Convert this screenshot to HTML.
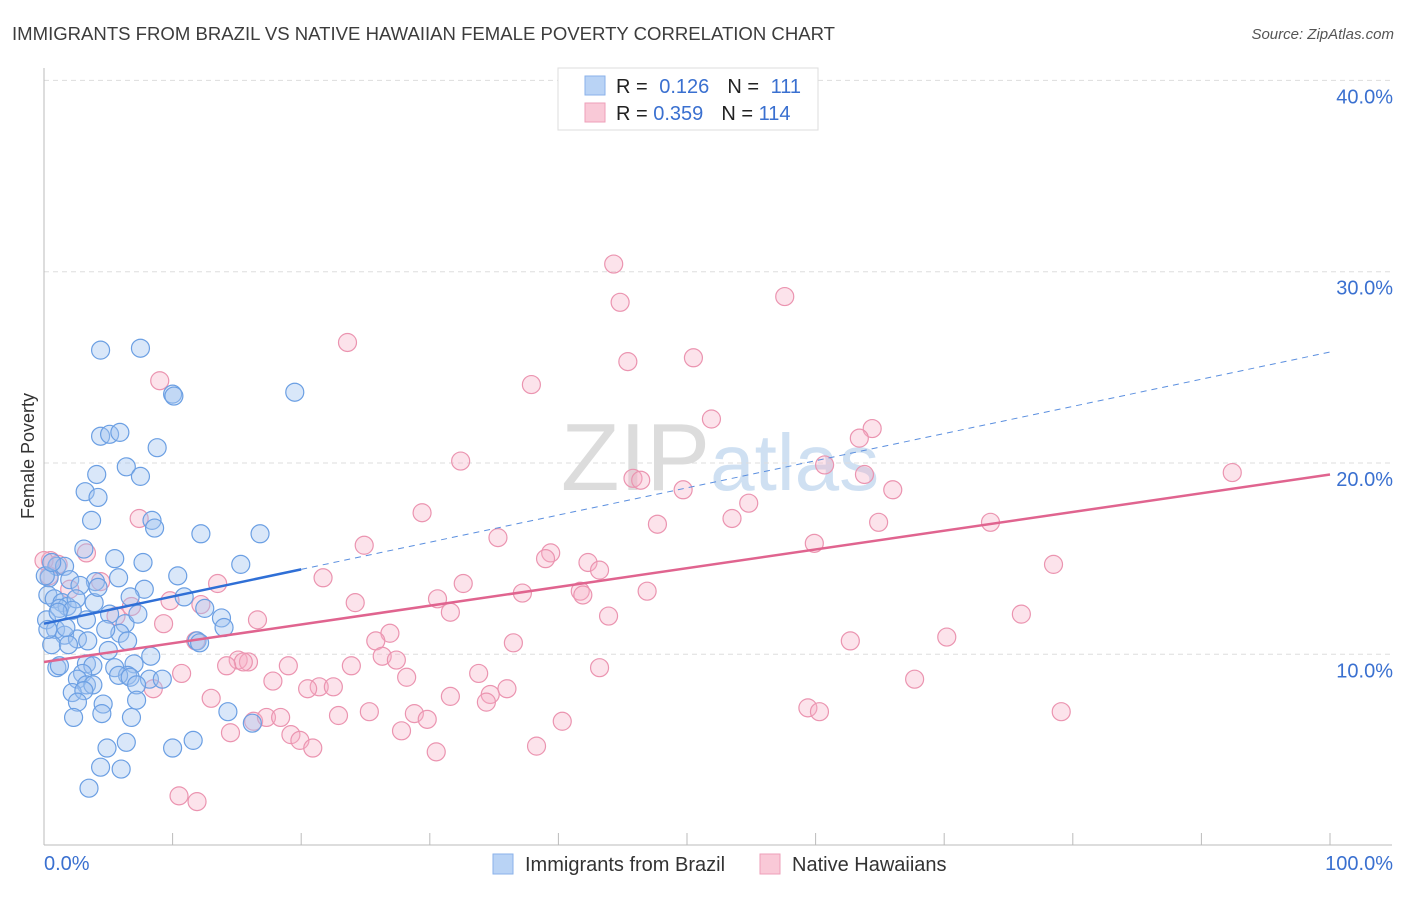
<!DOCTYPE html>
<html><head><meta charset="utf-8"><style>
body{margin:0;background:#fff;font-family:"Liberation Sans",sans-serif;}
svg text{font-family:"Liberation Sans",sans-serif;}
</style></head><body>
<svg id="chart" width="1406" height="892" viewBox="0 0 1406 892">
<text x="12" y="40" font-size="18" fill="#3c3c3c" textLength="823" lengthAdjust="spacingAndGlyphs">IMMIGRANTS FROM BRAZIL VS NATIVE HAWAIIAN FEMALE POVERTY CORRELATION CHART</text>
<text x="1394" y="39" font-size="15" font-style="italic" fill="#555" text-anchor="end">Source: ZipAtlas.com</text>
<text x="720" y="490" font-size="96" fill="#dcdcdc" text-anchor="middle" font-family="Liberation Serif">ZIP<tspan fill="#cfe0f2" font-family="Liberation Sans" font-size="80">atlas</tspan></text>
<text transform="translate(34,456) rotate(-90)" font-size="18" fill="#333" text-anchor="middle">Female Poverty</text>
<g id="grid"></g><g id="axes"></g><g id="pts"></g><g id="lines"></g>
<g>
<rect x="558" y="68" width="260" height="62" fill="#fff" stroke="#ddd"/>
<rect x="585" y="76" width="20" height="19" fill="#b9d3f5" stroke="#8ab2ea"/>
<rect x="585" y="103" width="20" height="19" fill="#f9c9d7" stroke="#ee9fb8"/>
<text x="616" y="93" font-size="20" fill="#222">R = <tspan fill="#3a70d0" dx="6">0.126</tspan><tspan fill="#222" dx="18">N = </tspan><tspan fill="#3a70d0" dx="6">111</tspan></text>
<text x="616" y="120" font-size="20" fill="#222">R = <tspan fill="#3a70d0">0.359</tspan><tspan fill="#222" dx="18">N = </tspan><tspan fill="#3a70d0">114</tspan></text>
</g>
<g>
<rect x="493" y="854" width="20" height="20" fill="#b9d3f5" stroke="#8ab2ea"/>
<text x="525" y="871" font-size="20" fill="#333">Immigrants from Brazil</text>
<rect x="760" y="854" width="20" height="20" fill="#f9c9d7" stroke="#ee9fb8"/>
<text x="792" y="871" font-size="20" fill="#333">Native Hawaiians</text>
</g>
</svg>
<script>
const yTicks=[10,20,30,40];
const xTickVals=[0,10,20,30,40,50,60,70,80,90,100];
const blueX=[4.4,7.5,10.0,10.1,19.5,4.4,5.1,5.9,8.8,4.1,6.4,7.5,3.2,4.2,3.7,8.4,8.6,12.2,16.8,3.1,5.5,7.7,15.3,1.0,1.6,0.4,2.0,4.0,5.8,7.8,10.4,2.8,0.3,0.8,1.4,1.8,2.5,3.9,6.7,10.9,12.5,1.2,2.2,3.3,5.1,6.3,13.8,14.0,0.2,0.9,1.6,2.6,3.4,5.9,6.5,11.9,12.1,0.6,1.9,5.0,8.3,1.0,3.3,3.8,5.5,7.0,3.0,6.5,2.6,3.3,5.8,6.7,8.2,9.2,7.2,3.8,2.2,3.1,2.6,4.6,7.2,4.5,2.3,6.8,14.3,16.2,4.9,11.6,10.0,4.4,6.0,3.5,6.4,1.1,0.1,0.3,0.6,1.7,4.8,4.2,7.3,1.2];
const blueY=[25.9,26.0,23.6,23.5,23.7,21.4,21.5,21.6,20.8,19.4,19.8,19.3,18.5,18.2,17.0,17.0,16.6,16.3,16.3,15.5,15.0,14.8,14.7,14.6,14.6,14.0,13.9,13.8,14.0,13.4,14.1,13.6,13.1,12.9,12.7,12.5,12.9,12.7,13.0,13.0,12.4,12.4,12.3,11.8,12.1,11.6,11.9,11.4,11.8,11.3,11.0,10.8,10.7,11.1,10.7,10.7,10.6,10.5,10.5,10.2,9.9,9.3,9.5,9.4,9.3,9.5,9.0,8.9,8.7,8.4,8.9,8.8,8.7,8.7,8.4,8.4,8.0,8.1,7.5,7.4,7.6,6.9,6.7,6.7,7.0,6.4,5.1,5.5,5.1,4.1,4.0,3.0,5.4,12.2,14.1,11.3,14.8,11.4,11.3,13.5,12.1,9.4];
const pinkX=[44.3,44.8,57.6,23.6,45.4,50.5,9.0,37.9,51.9,64.4,63.4,32.4,60.7,45.8,46.4,63.8,49.7,92.4,66.0,54.8,29.4,53.5,47.7,64.9,7.4,73.6,35.3,59.9,24.9,39.4,39.0,42.3,43.2,78.5,3.3,4.4,32.6,21.7,13.5,41.7,41.9,37.2,46.9,30.6,9.8,24.2,31.6,6.8,5.6,12.2,16.6,76.0,43.9,26.9,25.8,36.5,62.7,70.2,9.3,0.5,0.4,11.8,26.3,27.4,23.9,15.1,15.9,15.5,14.2,19.0,33.8,43.2,28.2,10.7,17.8,67.7,21.4,20.5,22.5,36.0,34.7,34.4,8.5,13.0,31.6,25.3,28.8,59.4,60.3,22.9,29.8,79.1,16.3,17.3,18.4,40.3,14.5,19.2,27.8,19.9,20.9,38.3,30.5,10.5,11.9,1.1,0.0,2.0];
const pinkY=[30.4,28.4,28.7,26.3,25.3,25.5,24.3,24.1,22.3,21.8,21.3,20.1,19.9,19.2,19.1,19.4,18.6,19.5,18.6,17.9,17.4,17.1,16.8,16.9,17.1,16.9,16.1,15.8,15.7,15.3,15.0,14.8,14.4,14.7,15.3,13.8,13.7,14.0,13.7,13.3,13.1,13.2,13.3,12.9,12.8,12.7,12.2,12.5,12.0,12.6,11.8,12.1,12.0,11.1,10.7,10.6,10.7,10.9,11.6,14.9,14.1,10.7,9.9,9.7,9.4,9.7,9.6,9.6,9.4,9.4,9.0,9.3,8.8,9.0,8.6,8.7,8.3,8.2,8.3,8.2,7.9,7.5,8.2,7.7,7.8,7.0,6.9,7.2,7.0,6.8,6.6,7.0,6.5,6.7,6.7,6.5,5.9,5.8,6.0,5.5,5.1,5.2,4.9,2.6,2.3,14.7,14.9,13.4];
const blueTrend=[11.6,25.8];
const pinkTrend=[9.6,19.4];
const X=v=>44+v*12.86, Y=v=>845.6-v*19.13;
const NS="http://www.w3.org/2000/svg";
function mk(tag,attrs,parent){const e=document.createElementNS(NS,tag);for(const k in attrs)e.setAttribute(k,attrs[k]);parent.appendChild(e);return e;}
const grid=document.getElementById('grid'),axes=document.getElementById('axes'),pts=document.getElementById('pts'),lines=document.getElementById('lines');
yTicks.forEach(t=>{
 const l=mk('line',{x1:44,x2:1392,y1:Y(t),y2:Y(t),stroke:'#ddd','stroke-dasharray':'5,4'},grid);
 
 
 const tx=mk('text',{x:1393,y:Y(t)+23,'font-size':20,fill:'#3a70d0','text-anchor':'end'},axes);
 tx.textContent=t.toFixed(1)+'%';
 
 
});
mk('line',{x1:44,x2:44,y1:68,y2:845,stroke:'#bbb'},axes);
mk('line',{x1:44,x2:1392,y1:845,y2:845,stroke:'#bbb'},axes);
xTickVals.forEach(t=>{
 const l=mk('line',{x1:X(t),x2:X(t),y1:833,y2:845,stroke:'#bbb'},axes);
 
 
});
const xl0=mk('text',{x:44,y:870,'font-size':20,fill:'#3a70d0'},axes);xl0.textContent='0.0%';


const xl1=mk('text',{x:1393,y:870,'font-size':20,fill:'#3a70d0','text-anchor':'end'},axes);xl1.textContent='100.0%';


pinkX.forEach((x,i)=>{
 const c=mk('circle',{cx:X(x),cy:Y(pinkY[i]),r:9,fill:'rgba(246,175,198,0.35)',stroke:'#eb94b0','stroke-width':1.2},pts);
 
 
});
blueX.forEach((x,i)=>{
 const c=mk('circle',{cx:X(x),cy:Y(blueY[i]),r:9,fill:'rgba(160,196,240,0.4)',stroke:'#6b9fe3','stroke-width':1.2},pts);
 
 
});
const by=x=>blueTrend[0]+(blueTrend[1]-blueTrend[0])*x/100;
const py=x=>pinkTrend[0]+(pinkTrend[1]-pinkTrend[0])*x/100;
const b1=mk('line',{x1:X(0),y1:Y(by(0)),x2:X(20),y2:Y(by(20)),stroke:'#2f6fd6','stroke-width':2.5},lines);


const b2=mk('line',{x1:X(20),y1:Y(by(20)),x2:X(100),y2:Y(by(100)),stroke:'#5b8fdf','stroke-width':1,'stroke-dasharray':'6,5'},lines);


const p1=mk('line',{x1:X(0),y1:Y(py(0)),x2:X(100),y2:Y(py(100)),stroke:'#e0648f','stroke-width':2.5},lines);


</script>
</body></html>
